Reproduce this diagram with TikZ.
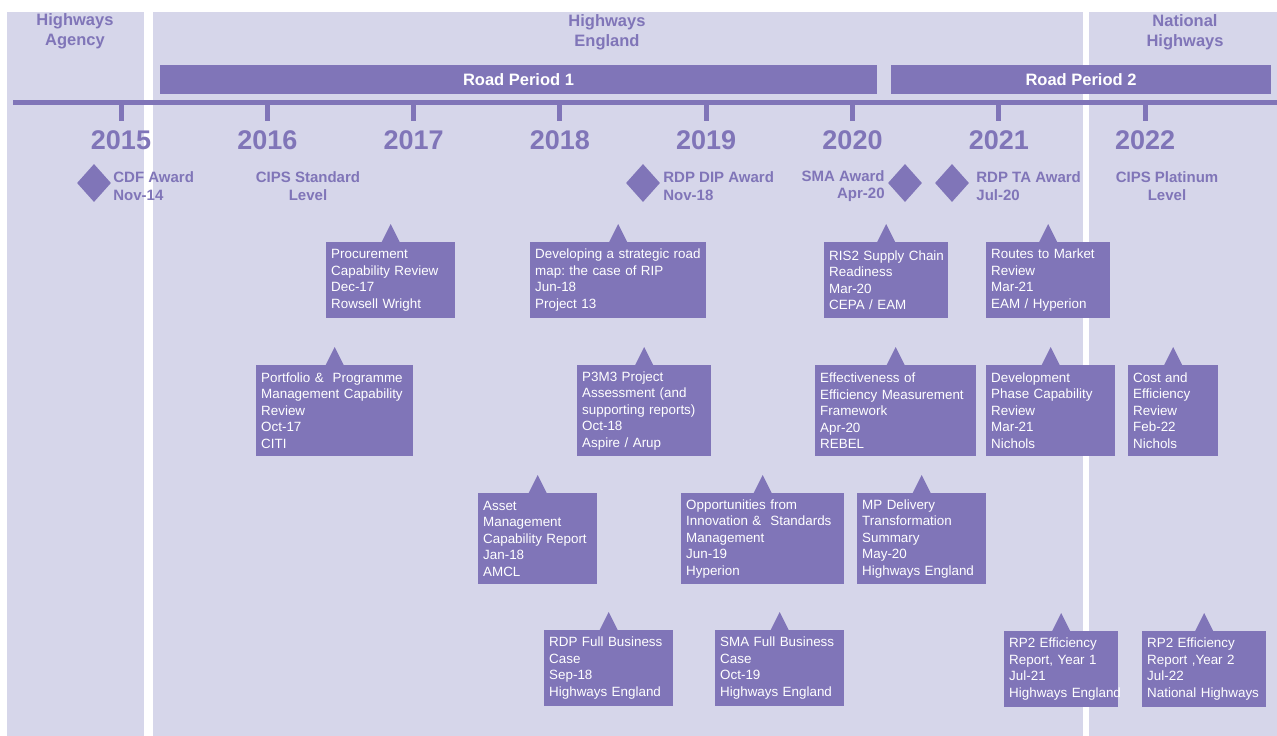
\documentclass[tikz,border=0pt]{standalone}
\usepackage{fontspec}
\setmainfont{Liberation Sans}
\usetikzlibrary{shapes.geometric,positioning}

\definecolor{hepurple}{RGB}{128,117,184}
\definecolor{helilac}{RGB}{214,214,234}

\tikzset{
  panel/.style={fill=helilac},
  header/.style={text=hepurple, align=center, font=\fontsize{16.5}{20}\selectfont\bfseries},
  period/.style={fill=hepurple, text=white, inner sep=0pt, minimum height=29pt, font=\fontsize{16.5}{20}\selectfont\bfseries},
  axisline/.style={draw=hepurple, line width=5pt},
  yearlbl/.style={text=hepurple, font=\fontsize{27}{30}\selectfont\bfseries},
  award/.style={diamond, fill=hepurple, inner sep=0pt, minimum width=34pt, minimum height=38pt},
  awardlbl/.style={text=hepurple, inner sep=0pt, font=\fontsize{15}{17.5}\selectfont\bfseries},
  report/.style={fill=hepurple, text=white, anchor=north west, align=left, text width=#1, inner xsep=5pt, inner ysep=0pt, minimum height=76pt, font=\fontsize{13.4}{16.5}\selectfont\frenchspacing},
  tall/.style={minimum height=91pt},
}

\begin{document}
\begin{tikzpicture}[x=1pt, y=-1pt]
\useasboundingbox (0,0) rectangle (1277,736);

\fill[panel] (7,12) rectangle (144,736);
\fill[panel] (153,12) rectangle (1083,736);
\fill[panel] (1089,12) rectangle (1277,736);

\node[header] (agency) at (75,31) {Highways\\Agency};
\node[header] (england) at (607,32) {Highways\\England};
\node[header] (national) at (1185,32) {National\\Highways};

\node[period, minimum width=717pt] (rpa) at (518.5,79.5) {Road Period 1};
\node[period, minimum width=380pt] (rpb) at (1081,79.5) {Road Period 2};

\coordinate (axisW) at (13,102.5);
\coordinate (axisE) at (1277,102.5);
\draw[axisline] (axisW) -- (axisE);
\foreach \yr [count=\i from 0] in {2015,...,2022}{
  \coordinate (tick\yr) at ({121+146.3*\i},102.5);
  \draw[axisline] (tick\yr) -- ++(0,18.5);
  \node[yearlbl] (yr\yr) at ({121+146.3*\i},140) {\yr};
}

\node[award] (cdf) at (94,183) {};
\node[awardlbl, align=left, right=2pt of cdf, yshift=-3pt] (cdflbl) {CDF Award\\Nov-14};
\node[award] (rdpdip) at (643,183) {};
\node[awardlbl, align=left, right=3pt of rdpdip, yshift=-3pt] (rdpdiplbl) {RDP DIP Award\\Nov-18};
\node[award] (sma) at (905,183) {};
\node[awardlbl, align=right, left=3pt of sma, yshift=-3pt] (smalbl) {SMA Award\\Apr-20};
\node[award] (rdpta) at (952,183) {};
\node[awardlbl, align=left, right=7pt of rdpta, yshift=-3pt] (rdptalbl) {RDP TA Award\\Jul-20};
\node[awardlbl, align=center] (cipsstd) at (308,186) {CIPS Standard\\Level};
\node[awardlbl, align=center] (cipsplat) at (1167,186) {CIPS Platinum\\Level};

\node[report=119pt] (procure) at (326,242) {Procurement\\Capability Review\\Dec-17\\Rowsell Wright};
\node[report=166pt] (roadmap) at (530,242) {Developing a strategic road\\map: the case of RIP\\Jun-18\\Project 13};
\node[report=114pt] (ris) at (824,242) {\mbox{RIS2 Supply Chain}\\Readiness\\Mar-20\\CEPA / EAM};
\node[report=114pt] (routes) at (986,242) {Routes to Market\\Review\\Mar-21\\EAM / Hyperion};

\node[report=147pt, tall] (ppm) at (256,365) {Portfolio \& \ Programme\\Management Capability\\Review\\Oct-17\\CITI};
\node[report=124pt, tall] (ptm) at (577,365) {P3M3 Project\\Assessment (and\\supporting reports)\\Oct-18\\Aspire / Arup};
\node[report=151pt, tall] (effect) at (815,365) {Effectiveness of\\Efficiency Measurement\\Framework\\Apr-20\\REBEL};
\node[report=119pt, tall] (devphase) at (986,365) {Development\\Phase Capability\\Review\\Mar-21\\Nichols};
\node[report=80pt, tall] (cost) at (1128,365) {Cost and\\Efficiency\\Review\\Feb-22\\Nichols};

\node[report=109pt, tall] (asset) at (478,493) {Asset\\Management\\Capability Report\\Jan-18\\AMCL};
\node[report=153pt, tall] (opps) at (681,493) {Opportunities from\\Innovation \& \ Standards\\Management\\Jun-19\\Hyperion};
\node[report=119pt, tall] (mpdel) at (857,493) {MP Delivery\\Transformation\\Summary\\May-20\\Highways England};

\node[report=119pt] (rdpfbc) at (544,630) {RDP Full Business\\Case\\Sep-18\\Highways England};
\node[report=119pt] (smafbc) at (715,630) {SMA Full Business\\Case\\Oct-19\\Highways England};
\node[report=104pt] (rpone) at (1004,631) {RP2 Efficiency\\Report, Year 1\\Jul-21\\\mbox{Highways England}};
\node[report=114pt] (rptwo) at (1142,631) {RP2 Efficiency\\Report ,Year 2\\Jul-22\\National Highways};

\foreach \r in {procure,roadmap,ris,routes,ppm,ptm,effect,devphase,cost,asset,opps,mpdel,rdpfbc,smafbc,rpone,rptwo}
  \fill[hepurple] ([xshift=-9pt]\r.north) -- ([yshift=18pt]\r.north) -- ([xshift=9pt]\r.north) -- cycle;

\end{tikzpicture}
\end{document}
